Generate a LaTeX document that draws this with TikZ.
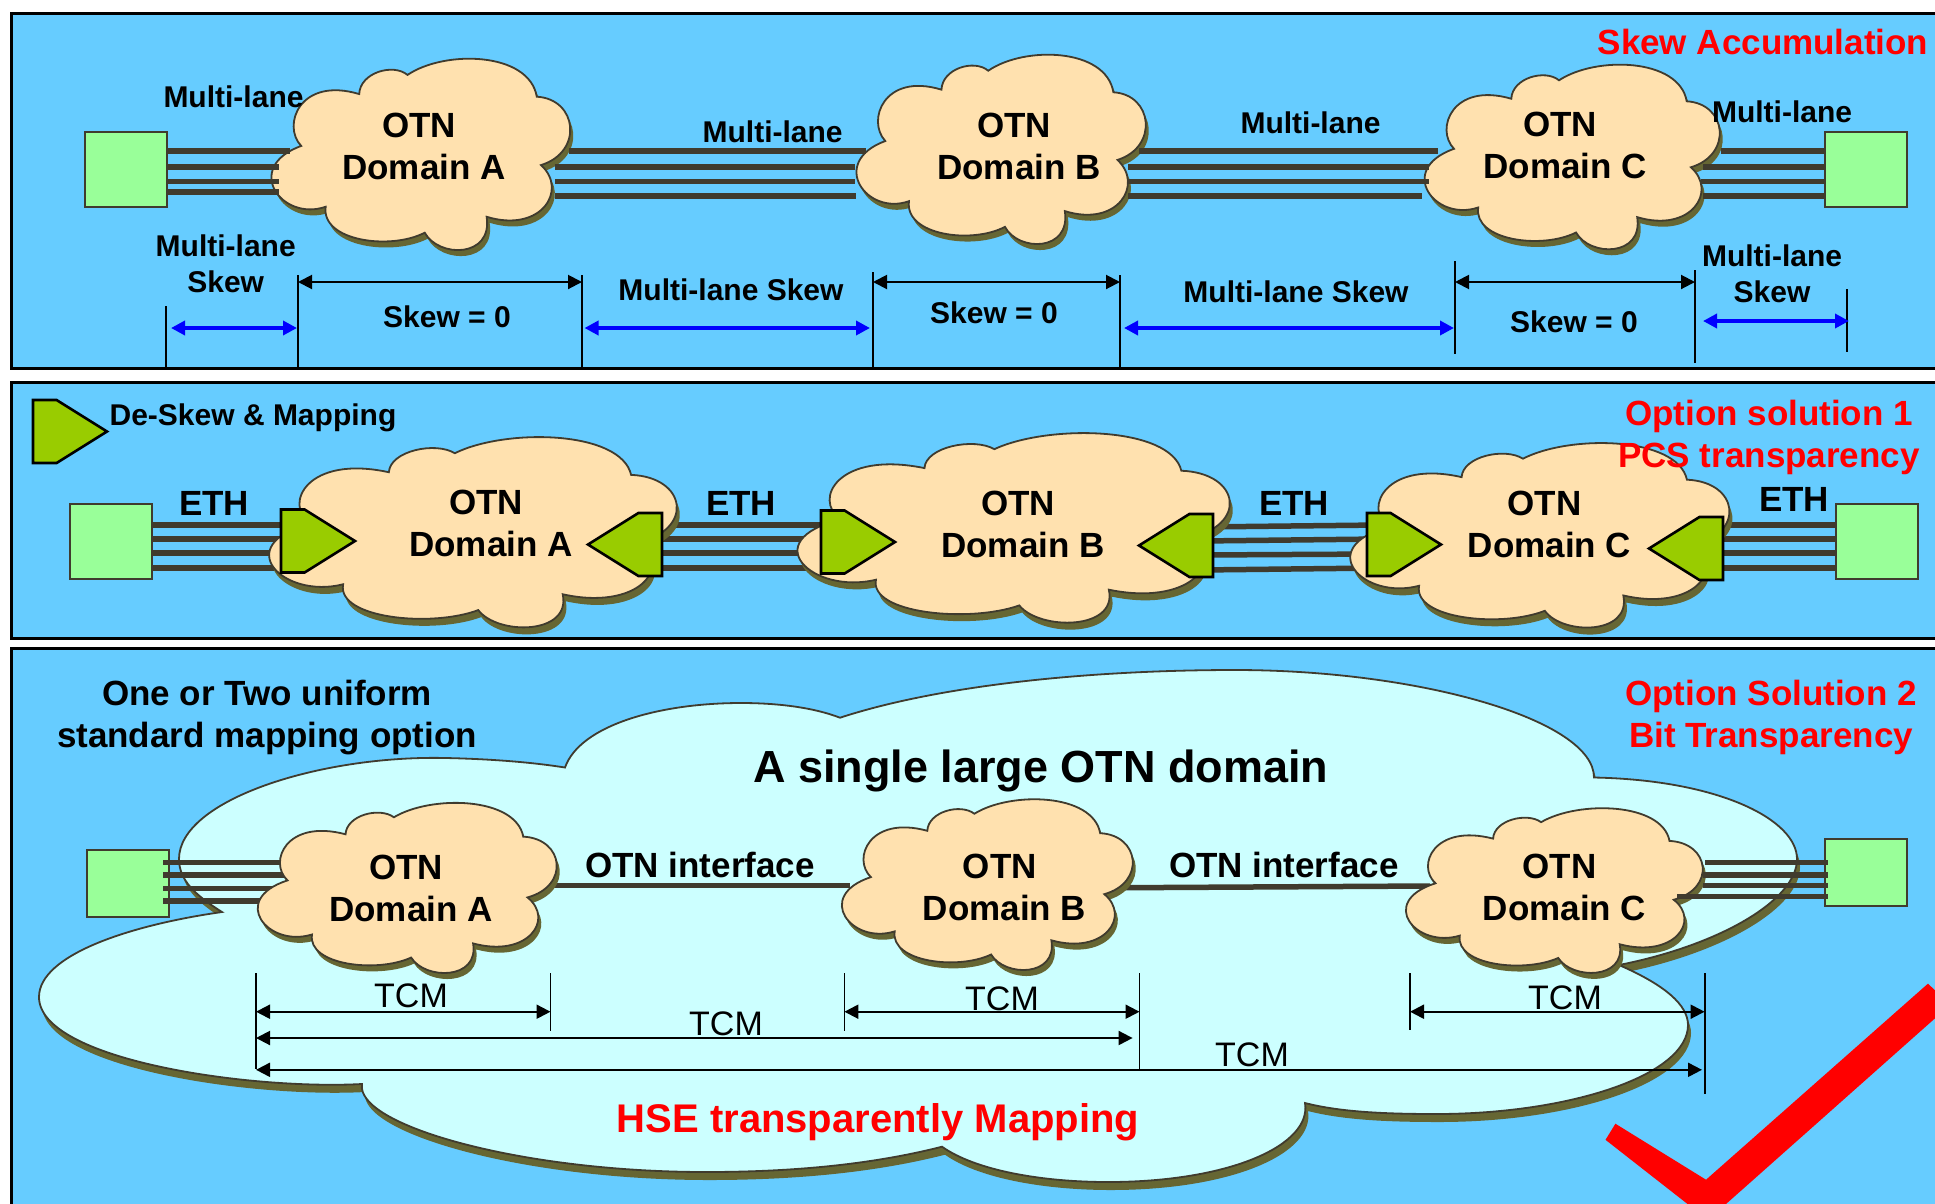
\documentclass[tikz,border=0pt]{standalone}
\usepackage{fontspec}
\setmainfont{Liberation Sans}
\usetikzlibrary{arrows.meta,shapes.symbols}
\definecolor{panelblue}{HTML}{66CCFF}
\definecolor{cloudpeach}{HTML}{FFE1AF}
\definecolor{cloudcyan}{HTML}{CCFFFF}
\definecolor{shadowolive}{HTML}{666633}
\definecolor{lanegray}{HTML}{403B2E}
\definecolor{termgreen}{HTML}{99FF99}
\definecolor{pentgreen}{HTML}{99CC00}
\tikzstyle{panel}=[draw=black,
line width=3pt,
fill=panelblue]
\tikzstyle{term}=[rectangle,
draw=lanegray,
line width=2pt,
fill=termgreen,
inner sep=0pt,
outer sep=0pt,
minimum width=82pt,
minimum height=75pt]
\tikzstyle{lane}=[draw=lanegray,
line width=5.5pt]
\tikzstyle{cloudbody}=[draw=lanegray,
line width=1.8pt,
fill=cloudpeach]
\tikzstyle{bigcloud}=[draw=lanegray,
line width=1.8pt,
fill=cloudcyan]
\tikzstyle{cloudshadow}=[fill=shadowolive]
\tikzstyle{pent}=[signal,
signal pointer angle=64,
draw=black,
line width=2.6pt,
fill=pentgreen,
inner sep=0pt,
outer sep=0pt,
minimum width=74pt,
minimum height=63pt,
anchor=west]
\tikzstyle{pentback}=[pent,
signal to=west,
anchor=east]
\tikzstyle{tick}=[draw=black,
line width=1.8pt]
\tikzstyle{dim}=[draw=black,
line width=2pt,
<->]
\tikzstyle{skewdim}=[draw=blue,
line width=4.5pt,
<->]
\tikzstyle{lab}=[font=\fontsize{30}{36}\selectfont\bfseries,
inner sep=0pt,
align=center,
anchor=base]
\tikzstyle{domlab}=[font=\fontsize{35}{42}\selectfont\bfseries,
inner sep=0pt,
align=center,
anchor=base]
\tikzstyle{redlab}=[domlab,
text=red]
\tikzstyle{tcmlab}=[font=\fontsize{34}{41}\selectfont,
inner sep=0pt,
anchor=base]
% outline of the small clouds, in a unit box
\newcommand{\cloudpath}{(.105,.468) .. controls (.04,.36) and (.10,.10) .. (.297,.194)
.. controls (.30,.08) and (.41,.03) .. (.457,.093)
.. controls (.58,-.04) and (.86,-.03) .. (.885,.208)
.. controls (1.02,.22) and (1.04,.50) .. (.899,.569)
.. controls (.99,.70) and (.90,.93) .. (.719,.842)
.. controls (.74,1.06) and (.56,1.06) .. (.514,.926)
.. controls (.40,1.02) and (.17,.97) .. (.186,.789)
.. controls (.04,.87) and (-.09,.58) .. (.105,.468) -- cycle}
% left, top, width, height, drop of the shadow
\newcommand{\otncloud}[5]{
\begin{scope}[shift={(#1+3,#2+#5)},xscale=#3,yscale=#4]
\fill[cloudshadow] \cloudpath;
\end{scope}
\begin{scope}[shift={(#1,#2)},xscale=#3,yscale=#4]
\draw[cloudbody] \cloudpath;
\end{scope}}
\newcommand{\largepath}{(222,912) .. controls (195,895) and (179,880) .. (179,859)
.. controls (179,800) and (320,755) .. (446,758)
.. controls (490,759) and (530,762) .. (565,767.5)
.. controls (580,725) and (660,703) .. (741,703)
.. controls (780,703) and (815,708) .. (840,717.7)
.. controls (940,685) and (1090,670) .. (1235,670)
.. controls (1420,670) and (1594,720) .. (1594,777.5)
.. controls (1720,780) and (1797,820) .. (1797,859)
.. controls (1797,900) and (1720,945) .. (1619,965)
.. controls (1665,985) and (1688,1005) .. (1688,1025)
.. controls (1688,1075) and (1570,1114) .. (1436,1114)
.. controls (1385,1114) and (1340,1112) .. (1305,1103)
.. controls (1312,1145) and (1230,1182) .. (1108,1182)
.. controls (1040,1182) and (975,1170) .. (942,1146.7)
.. controls (870,1165) and (790,1172) .. (706,1172)
.. controls (520,1172) and (355,1125) .. (362,1084)
.. controls (250,1090) and (39,1060) .. (39,997)
.. controls (39,955) and (130,925) .. (222,912) -- cycle}

\begin{document}
\begin{tikzpicture}[>={Triangle[length=14pt,width=14pt]},x=1pt,y=-1pt]
	\useasboundingbox (0,0) rectangle (1935,1203);
	\clip (0,0) rectangle (1935,1203);

	% Top panel: skew accumulation
	\draw[panel] (11,13) rectangle (1950,368);
	\otncloud{269.5}{57.3}{302}{189.4}{6}
	\otncloud{854.6}{53.3}{292.4}{187.4}{6}
	\otncloud{1422.7}{63.3}{298.3}{182.7}{6}
	\node (srcA) [term] at (125.5,169.5) {};
	\node (dstA) [term] at (1865.5,169) {};
	\foreach \y/\x in {151/290,167/279,181.5/279,192/279} {
		\coordinate (e) at (\x,\y);
		\draw[lane] (srcA.east |- e) -- (e);
	}
	\foreach \y/\x in {151/1721,167/1703,181.5/1701,196/1703} {
		\coordinate (e) at (\x,\y);
		\draw[lane] (dstA.west |- e) -- (e);
	}
	\foreach \xa/\xb/\y in {569/866/151,555/855/167,555/855/181.5,555/856/196,
		1139/1438/151,1128/1429/167,1128/1429/181.5,1128/1422/196} {
		\coordinate (s) at (\xa,\y);
		\coordinate (e) at (\xb,\y);
		\draw[lane] (s) -- (e);
	}
	\foreach \n/\x/\ya/\yb in {ta/166/306/368,tb/298/275/368,tc/582/275/368,td/873/272/368,
		te/1120/275/368,tf/1455/261/354,tg/1695/270/363,th/1846.6/289/352} {
		\coordinate (\n t) at (\x,\ya);
		\coordinate (\n b) at (\x,\yb);
		\draw[tick] (\n t) -- (\n b);
	}
	\draw[dim] (tbt |- 0,282) -- (tct |- 0,282);
	\draw[dim] (tdt |- 0,282) -- (tet |- 0,282);
	\draw[dim] (tft |- 0,282) -- (tgt |- 0,282);
	\foreach \xa/\xb/\y in {171/297/328,584.5/870/328,1124/1454/328,1703/1849/321} {
		\coordinate (s) at (\xa,\y);
		\coordinate (e) at (\xb,\y);
		\draw[skewdim] (s) -- (e);
	}
	\node (domA1) [domlab] at (424,179) {OTN~\mbox{}\\Domain A};
	\node (domB1) [domlab] at (1019,179) {OTN~\mbox{}\\Domain B};
	\node (domC1) [domlab] at (1565,178.5) {OTN~\mbox{}\\Domain C};
	\node (mlA) [lab] at (233.5,107) {Multi-lane};
	\node (mlB) [lab] at (772.6,142) {Multi-lane};
	\node (mlC) [lab] at (1310.5,133) {Multi-lane};
	\node (mlD) [lab] at (1782,122) {Multi-lane};
	\node (skA) [lab] at (225.7,292) {Multi-lane\\Skew};
	\node (skB) [lab] at (731,300) {Multi-lane Skew};
	\node (skC) [lab] at (1296,302) {Multi-lane Skew};
	\node (skD) [lab] at (1772,302) {Multi-lane\\Skew};
	\node (zeA) [lab] at (447,327) {Skew = 0};
	\node (zeB) [lab] at (994,323) {Skew = 0};
	\node (zeC) [lab] at (1574,332) {Skew = 0};
	\node (titleA) [redlab] at (1763,54) {Skew Accumulation};

	% Middle panel: PCS transparency
	\draw[panel] (11,382.5) rectangle (1950,638);
	\node (srcB) [term] at (111,541.5) {};
	\node (dstB) [term] at (1876.5,541.5) {};
	\foreach \y in {525,539,553,568} {
		\coordinate (e) at (300,\y);
		\draw[lane] (srcB.east |- e) -- (e);
		\coordinate (e) at (1700,\y);
		\draw[lane] (dstB.west |- e) -- (e);
		\coordinate (s) at (640,\y);
		\coordinate (e) at (830,\y);
		\draw[lane] (s) -- (e);
	}
	\foreach \ya/\yb in {527/525,541/539,555/554,570/568} {
		\coordinate (s) at (1200,\ya);
		\coordinate (e) at (1380,\yb);
		\draw[lane] (s) -- (e);
	}
	\otncloud{266.5}{435.7}{412}{188.3}{7}
	\otncloud{794.7}{431.7}{436.9}{187.6}{7}
	\otncloud{1347.8}{441.7}{383.2}{182.6}{7}
	\node (keyP) [pent] at (33,431.5) {};
	\node (pentA) [pent] at (281,541) {};
	\node (pentB) [pentback] at (662,544.5) {};
	\node (pentC) [pent] at (821,542) {};
	\node (pentD) [pentback] at (1213,545.5) {};
	\node (pentE) [pent] at (1367,544.5) {};
	\node (pentF) [pentback] at (1723,548.5) {};
	\node (domA2) [domlab] at (491,556) {OTN~\mbox{}\\Domain A};
	\node (domB2) [domlab] at (1023,557) {OTN~\mbox{}\\Domain B};
	\node (domC2) [domlab] at (1549.5,557) {OTN~\mbox{}\\Domain C};
	\node (keylab) [lab] at (253,425) {De-Skew \& Mapping};
	\node (ethA) [domlab] at (214,515) {ETH};
	\node (ethB) [domlab] at (741,515) {ETH};
	\node (ethC) [domlab] at (1294,515) {ETH};
	\node (ethD) [domlab] at (1794,511) {ETH};
	\node (titleB) [redlab] at (1769,467) {Option solution 1\\PCS transparency};

	% Bottom panel: bit transparency
	\draw[panel] (11,648) rectangle (1950,1230);
	\fill[cloudshadow,shift={(3,8)}] \largepath;
	\draw[bigcloud] \largepath;
	\node (srcC) [term,minimum height=67pt] at (127.5,883.5) {};
	\node (dstC) [term,minimum height=67pt] at (1866,872.5) {};
	\foreach \y/\x in {862.6/285,875/290,888.5/285,901/270} {
		\coordinate (s) at (163,\y);
		\coordinate (e) at (\x,\y);
		\draw[lane] (s) -- (e);
	}
	\coordinate (s) at (550,885.7);
	\coordinate (e) at (850,885.7);
	\draw[lane] (s) -- (e);
	\coordinate (s) at (1125,887.7);
	\coordinate (e) at (1430,886);
	\draw[lane] (s) -- (e);
	\otncloud{255.8}{801.6}{302.2}{168.4}{6}
	\otncloud{840}{798}{294}{169}{6}
	\otncloud{1404}{807}{300}{163}{6}
	\foreach \y/\x in {862.6/1705,875/1703,885.6/1703,896.4/1677} {
		\coordinate (s) at (\x,\y);
		\coordinate (e) at (1828,\y);
		\draw[lane] (s) -- (e);
	}
	\foreach \n/\x/\ya/\yb in {ua/256/973/1069,ub/550.5/973/1030.6,uc/844.4/973/1030.7,
		ud/1139.5/973/1069,ue/1410/973/1030,uf/1704.6/973/1094} {
		\coordinate (\n t) at (\x,\ya);
		\coordinate (\n b) at (\x,\yb);
		\draw[tick] (\n t) -- (\n b);
	}
	\draw[dim] (uat |- 0,1011.7) -- (ubt |- 0,1011.7);
	\draw[dim] (uct |- 0,1011.7) -- (udt |- 0,1011.7);
	\draw[dim] (uet |- 0,1011.7) -- (uft |- 0,1011.7);
	\coordinate (e) at (1132.6,1038);
	\draw[dim] (uat |- e) -- (e);
	\coordinate (e) at (1702,1069.8);
	\draw[dim] (uat |- e) -- (e);
	\node (domA3) [domlab] at (411,921) {OTN~\mbox{}\\Domain A};
	\node (domB3) [domlab] at (1004.6,920.6) {OTN~\mbox{}\\Domain B};
	\node (domC3) [domlab] at (1564.5,920) {OTN~\mbox{}\\Domain C};
	\node (ifA) [domlab] at (700,877) {OTN interface};
	\node (ifB) [domlab] at (1283.8,877) {OTN interface};
	\node (tcmA) [tcmlab] at (411,1007) {TCM};
	\node (tcmB) [tcmlab] at (726,1035) {TCM};
	\node (tcmC) [tcmlab] at (1002,1010) {TCM};
	\node (tcmD) [tcmlab] at (1565,1009) {TCM};
	\node (tcmE) [tcmlab] at (1252,1066.7) {TCM};
	\node (stdlab) [domlab] at (267,747.7) {One or Two uniform\\standard mapping option};
	\node (single) [domlab,font=\fontsize{45}{50}\selectfont\bfseries] at (1040.8,782) {A single large OTN domain};
	\node (hse) [redlab,font=\fontsize{40}{48}\selectfont\bfseries] at (878,1132.7) {HSE transparently Mapping};
	\node (titleC) [redlab] at (1771,747.7) {Option Solution 2\\Bit Transparency};
	\fill[red] (1615.4,1123.7) -- (1706,1179.7) -- (1928,983.6) -- (1950,1005) -- (1708,1220) -- (1605.5,1139.8) -- cycle;
\end{tikzpicture}
\end{document}
